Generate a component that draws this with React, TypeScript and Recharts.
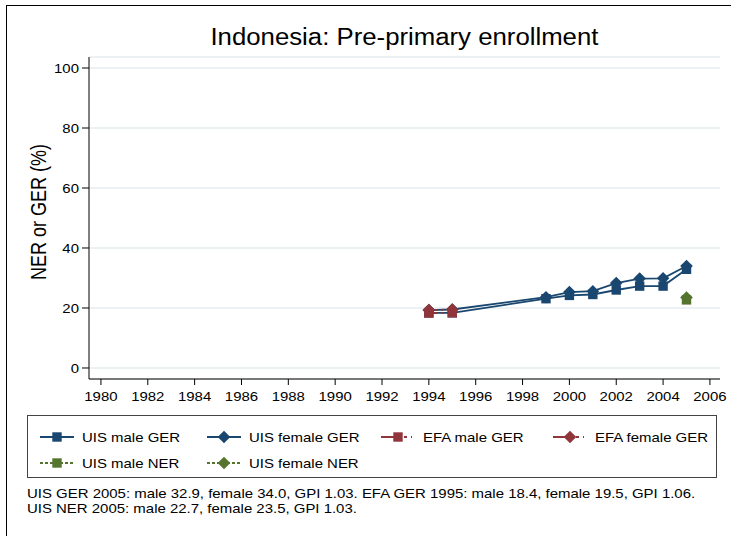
import React from 'react';
import { LineChart, Line, XAxis, YAxis, CartesianGrid } from 'recharts';

const years = [1994, 1995, 1999, 2000, 2001, 2002, 2003, 2004, 2005];
const uisMaleGER = [18.4, 18.4, 23.1, 24.2, 24.5, 26.0, 27.3, 27.3, 32.9];
const uisFemaleGER = [19.3, 19.5, 23.6, 25.3, 25.6, 28.3, 29.8, 29.9, 34.0];
const efaMaleGER = [18.3, 18.4, null, null, null, null, null, null, null];
const efaFemaleGER = [19.3, 19.5, null, null, null, null, null, null, null];
const uisMaleNER = [null, null, null, null, null, null, null, null, 22.7];
const uisFemaleNER = [null, null, null, null, null, null, null, null, 23.5];

const xTicks = [1980, 1982, 1984, 1986, 1988, 1990, 1992, 1994, 1996, 1998, 2000, 2002, 2004, 2006];
const yTicks = [0, 20, 40, 60, 80, 100];

const titleText = 'Indonesia: Pre-primary enrollment';
const yLabel = 'NER or GER (%)';
const notes = [
  'UIS GER 2005: male 32.9, female 34.0, GPI 1.03. EFA GER 1995: male 18.4, female 19.5, GPI 1.06.',
  'UIS NER 2005: male 22.7, female 23.5, GPI 1.03.',
];

const NAVY = '#1a476f';
const MAROON = '#90353b';
const GREEN = '#55752f';
const FONT = '"Liberation Sans", Arial, Helvetica, sans-serif';
const SX = 1.15;

const data = years.map((y, i) => ({
  year: y,
  uisMaleGER: uisMaleGER[i],
  uisFemaleGER: uisFemaleGER[i],
  efaMaleGER: efaMaleGER[i],
  efaFemaleGER: efaFemaleGER[i],
  uisMaleNER: uisMaleNER[i],
  uisFemaleNER: uisFemaleNER[i],
}));

const EFA_DASH = '9 3 3 3 1 3';
const EFA_LEG = '16 7 3 4 1 10';

const seriesDefs = [
  { key: 'uisMaleGER', name: 'UIS male GER', color: NAVY, shape: 'square', dash: undefined as string | undefined, legDash: undefined as string | undefined },
  { key: 'uisFemaleGER', name: 'UIS female GER', color: NAVY, shape: 'diamond', dash: undefined as string | undefined, legDash: undefined as string | undefined },
  { key: 'efaMaleGER', name: 'EFA male GER', color: MAROON, shape: 'square', dash: EFA_DASH, legDash: EFA_LEG },
  { key: 'efaFemaleGER', name: 'EFA female GER', color: MAROON, shape: 'diamond', dash: EFA_DASH, legDash: EFA_LEG },
  { key: 'uisMaleNER', name: 'UIS male NER', color: GREEN, shape: 'square', dash: '3 2', legDash: '3 2' },
  { key: 'uisFemaleNER', name: 'UIS female NER', color: GREEN, shape: 'diamond', dash: '3 2', legDash: '3 2' },
];

function Marker({ cx, cy, color, shape }: { cx: number; cy: number; color: string; shape: string }) {
  if (cx == null || cy == null || isNaN(cx) || isNaN(cy)) return null;
  if (shape === 'square') {
    const s = 4.7;
    return <rect x={cx - s} y={cy - s} width={2 * s} height={2 * s} fill={color} />;
  }
  const d = 6.3;
  return <polygon points={`${cx},${cy - d} ${cx + d},${cy} ${cx},${cy + d} ${cx - d},${cy}`} fill={color} />;
}

const makeDot = (color: string, shape: string) => (props: any) => {
  const { cx, cy, value, index } = props;
  if (value == null) return <g key={`n-${index}`} />;
  return <Marker key={`m-${index}`} cx={cx} cy={cy} color={color} shape={shape} />;
};

const XTick = (props: any) => {
  const { x, y, payload } = props;
  return (
    <text
      x={x}
      y={y}
      dy="0.71em"
      textAnchor="middle"
      fill="#000"
      fontSize={13}
      fontFamily={FONT}
      transform={`translate(${x},${y}) scale(${SX},1) translate(${-x},${-y})`}
    >
      {payload.value}
    </text>
  );
};

const YTick = (props: any) => {
  const { x, y, payload } = props;
  return (
    <text
      x={x}
      y={y}
      dy="0.355em"
      textAnchor="end"
      fill="#000"
      fontSize={13}
      fontFamily={FONT}
      transform={`translate(${x},${y}) scale(${SX},1) translate(${-x},${-y})`}
    >
      {payload.value}
    </text>
  );
};

function LegendBox() {
  const colX = [12, 179, 353, 525];
  const rowY = [13, 39];
  return (
    <div
      style={{
        position: 'absolute',
        left: 27,
        top: 415,
        width: 688,
        height: 61,
        border: '1px solid #444',
        background: '#fff',
        fontFamily: FONT,
        fontSize: 13,
        color: '#000',
      }}
    >
      {seriesDefs.map((s, i) => {
        const col = i % 4;
        const row = Math.floor(i / 4);
        return (
          <div
            key={s.key}
            style={{ position: 'absolute', left: colX[col], top: rowY[row], display: 'flex', alignItems: 'center', height: 16 }}
          >
            <svg width={34} height={16} style={{ display: 'block' }}>
              <line x1={0} y1={8} x2={34} y2={8} stroke={s.color} strokeWidth={1.8} strokeDasharray={s.legDash} />
              <Marker cx={17} cy={8} color={s.color} shape={s.shape} />
            </svg>
            <span style={{ marginLeft: 8, whiteSpace: 'nowrap', display: 'inline-block', transform: `scaleX(${SX})`, transformOrigin: 'left center' }}>
              {s.name}
            </span>
          </div>
        );
      })}
    </div>
  );
}

export default function App() {
  return (
    <div style={{ position: 'absolute', left: 0, top: 0, width: 731, height: 536, background: '#fff', overflow: 'hidden' }}>
      <div style={{ position: 'absolute', left: 6, top: 5, width: 740, height: 540, borderTop: '1.5px solid #000', borderLeft: '1.5px solid #000' }} />
      <div
        style={{
          position: 'absolute',
          left: 89,
          width: 631,
          top: 24,
          textAlign: 'center',
          fontFamily: FONT,
          fontSize: 23,
          color: '#000',
          transform: `scaleX(1.12)`,
          transformOrigin: '316px 0',
          whiteSpace: 'nowrap',
        }}
      >
        {titleText}
      </div>
      <div
        style={{
          position: 'absolute',
          left: 37.5,
          top: 211.5,
          transform: 'translate(-50%, -50%) rotate(-90deg) scale(1, 1.25)',
          fontFamily: FONT,
          fontSize: 18,
          lineHeight: '18px',
          whiteSpace: 'nowrap',
          color: '#000',
        }}
      >
        {yLabel}
      </div>
      <div style={{ position: 'absolute', left: 0, top: 0 }}>
        <LineChart width={731} height={536} data={data} margin={{ top: 57, left: 0, right: 11, bottom: 0 }}>
          <CartesianGrid vertical={false} stroke="#e6edf1" strokeWidth={1.5} />
          <XAxis
            dataKey="year"
            type="number"
            domain={[1979.49, 2006.43]}
            ticks={xTicks}
            allowDataOverflow
            height={157}
            stroke="#000"
            tickSize={6}
            tickMargin={7}
            tick={<XTick />}
            interval={0}
          />
          <YAxis
            type="number"
            domain={[-3.67, 103.67]}
            ticks={yTicks}
            allowDataOverflow
            width={89}
            stroke="#000"
            tickSize={7}
            tickMargin={3}
            tick={<YTick />}
            interval={0}
          />
          {seriesDefs.map((s) => (
            <Line
              key={s.key}
              dataKey={s.key}
              name={s.name}
              stroke={s.color}
              strokeWidth={1.8}
              strokeDasharray={s.dash}
              dot={makeDot(s.color, s.shape)}
              activeDot={false}
              connectNulls={false}
              isAnimationActive={false}
            />
          ))}
        </LineChart>
      </div>
      <LegendBox />
      <div
        style={{
          position: 'absolute',
          left: 27,
          top: 486,
          fontFamily: FONT,
          fontSize: 13,
          lineHeight: '15px',
          color: '#000',
          transform: `scaleX(${SX})`,
          transformOrigin: 'left top',
          whiteSpace: 'nowrap',
        }}
      >
        {notes.map((n, i) => (
          <div key={i}>{n}</div>
        ))}
      </div>
    </div>
  );
}
